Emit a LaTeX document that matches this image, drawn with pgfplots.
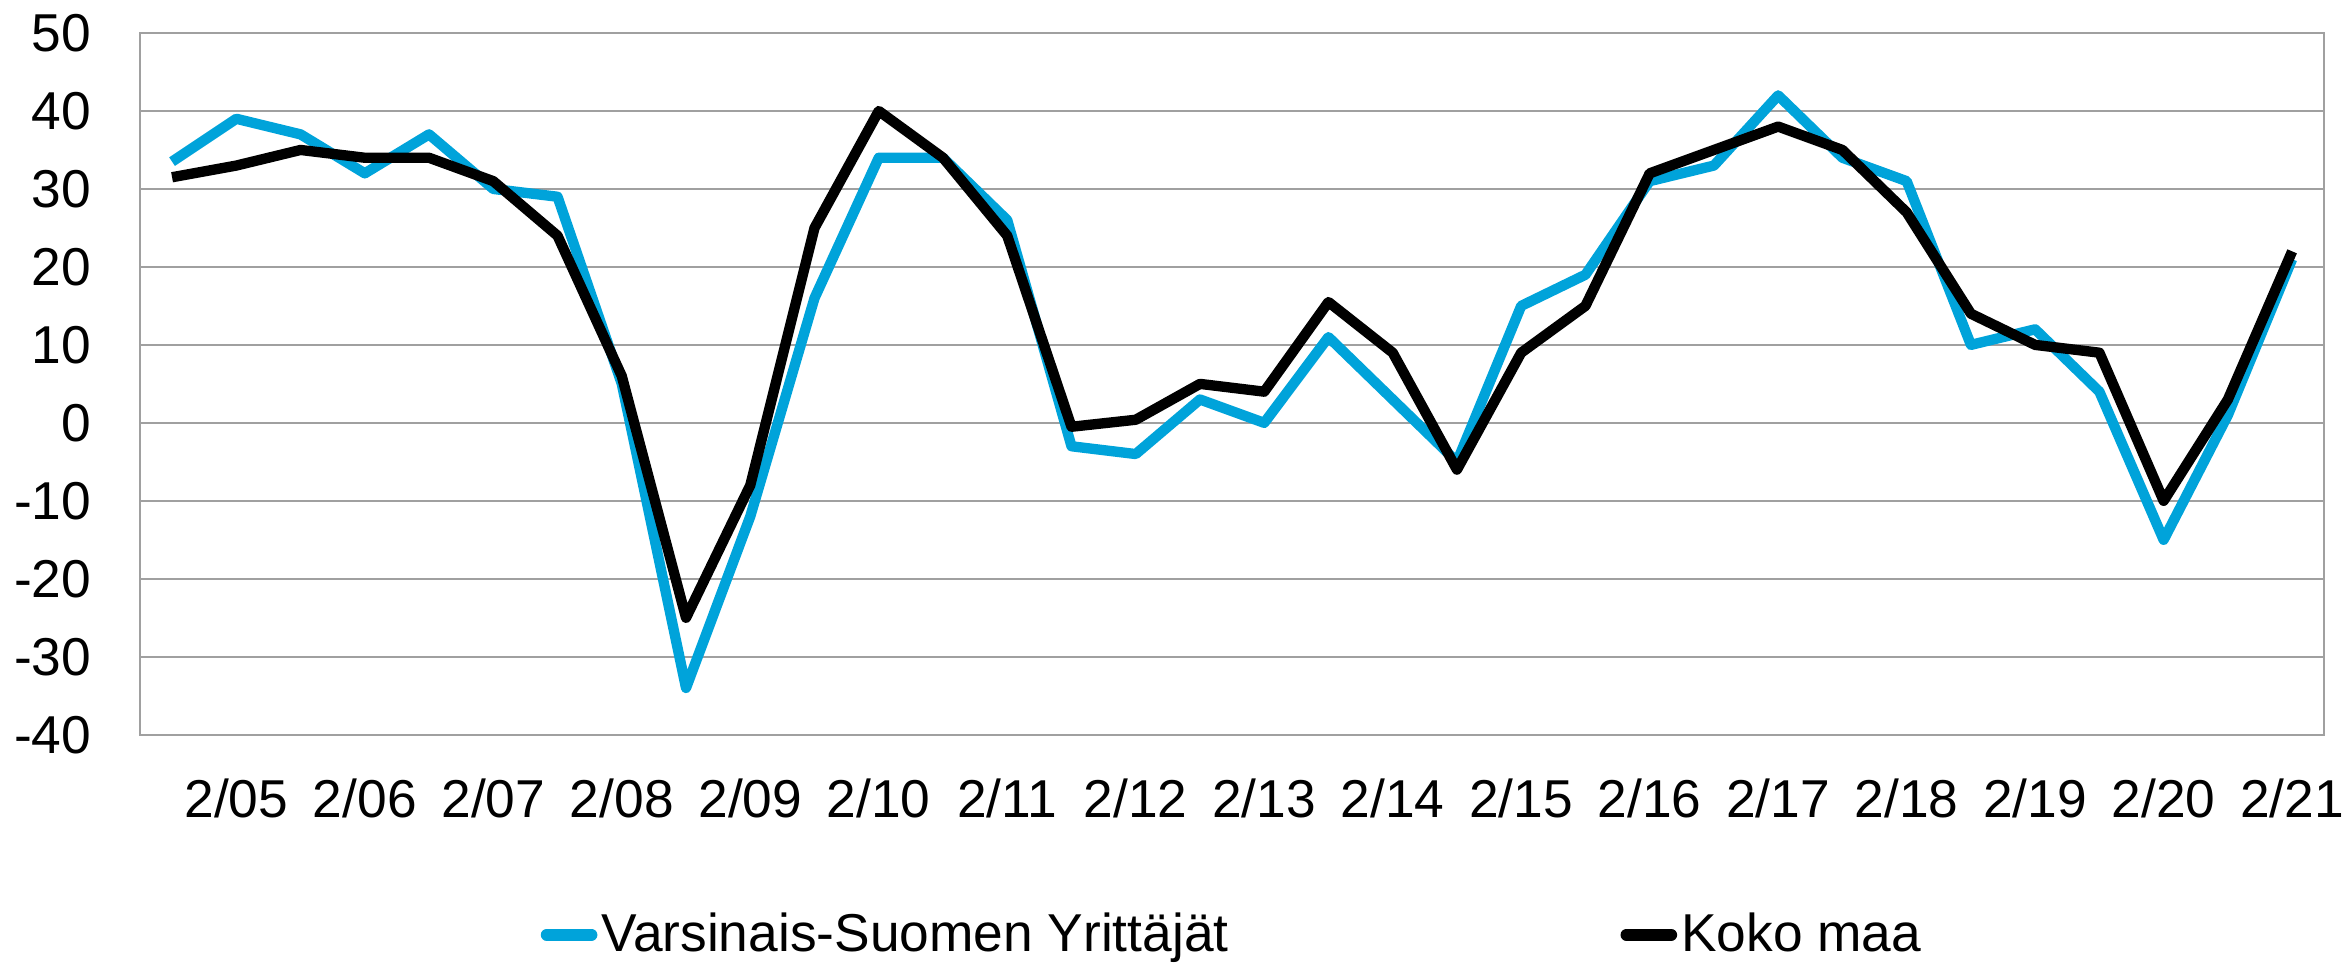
\documentclass[border=0pt]{standalone}
\usepackage{fontspec}
\setmainfont{Liberation Sans}
\usepackage{pgfplots}
\pgfplotsset{compat=1.18}
\definecolor{vsblue}{HTML}{00A3DA}
\definecolor{gridgray}{HTML}{A0A0A0}
\begin{document}
\begin{tikzpicture}
\begin{axis}[
  scale only axis, width=655.5pt, height=210.6pt,
  xmin=-0.5, xmax=33.5, ymin=-40, ymax=50,
  ytick={-40,-30,...,50},
  xtick={1,3,...,33},
  xticklabels={2/05,2/06,2/07,2/08,2/09,2/10,2/11,2/12,2/13,2/14,2/15,2/16,2/17,2/18,2/19,2/20,2/21},
  ymajorgrids, grid style={gridgray, line width=0.6pt},
  axis line style={gridgray, line width=0.6pt},
  major tick length=0pt,
  tick label style={font=\fontsize{16}{19}\selectfont},
  /pgf/number format/assume math mode=true,
  yticklabel style={anchor=east, inner sep=0pt, xshift=-14.4pt},
  xticklabel style={anchor=north, inner sep=0pt, yshift=-12.9pt},
  legend columns=2,
  legend cell align=left,
  legend style={draw=none, fill=none, inner sep=0pt, outer sep=0pt,
    at={(axis description cs:0.1835,-0.285)}, anchor=west,
    font=\fontsize{16}{19}\selectfont,
    nodes={inner sep=0pt},
    /tikz/every even column/.append style={column sep=117.6pt},
    /tikz/every odd column/.append style={column sep=1.2pt}},
  legend image code/.code={\path[draw=none] (0pt,0pt) -- (17pt,0pt); \draw[#1, line width=3.6pt, line cap=round] (1.8pt,0pt) -- (15.2pt,0pt);},
]
\addplot[vsblue, line width=3.1pt, line join=round] coordinates {
(0,33.5)(1,39)(2,37)(3,32)(4,37)(5,30)(6,29)(7,5)(8,-34)(9,-12)
(10,16)(11,34)(12,34)(13,26)(14,-3)(15,-4)(16,3)(17,0)(18,11)(19,3)
(20,-5)(21,15)(22,19)(23,31)(24,33)(25,42)(26,34)(27,31)(28,10)(29,12)
(30,4)(31,-15)(32,1)(33,21)};
\addlegendentry{Varsinais-Suomen Yrittäjät}
\addplot[black, line width=3.1pt, line join=round] coordinates {
(0,31.5)(1,33)(2,35)(3,34)(4,34)(5,31)(6,24)(7,6)(8,-25)(9,-8)
(10,25)(11,40)(12,34)(13,24)(14,-0.5)(15,0.4)(16,5)(17,4)(18,15.5)(19,9)
(20,-6)(21,9)(22,15)(23,32)(24,35)(25,38)(26,35)(27,27)(28,14)(29,10)
(30,9)(31,-10)(32,3)(33,22)};
\addlegendentry{Koko maa}
\end{axis}
\path[use as bounding box] (-42pt,-68.7pt) rectangle (661.2pt,220.5pt);
\end{tikzpicture}
\end{document}
